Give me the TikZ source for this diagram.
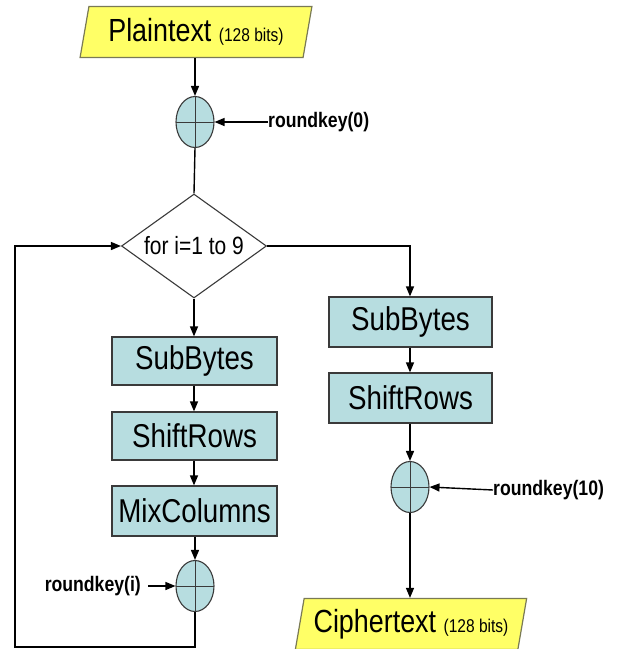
\documentclass[tikz,border=0pt]{standalone}
\usepackage{fontspec}
\setmainfont{Liberation Sans}[FakeStretch=0.84]
\usetikzlibrary{shapes.geometric,arrows.meta}
\definecolor{boxfill}{HTML}{B7DDE0}
\definecolor{boxline}{HTML}{3A3A3A}
\definecolor{ioyellow}{HTML}{FFFF66}
\definecolor{ioline}{HTML}{7A7A55}
\tikzset{
  stepbox/.style={rectangle, draw=boxline, line width=1.2pt, fill=boxfill,
    inner sep=0pt, font=\fontsize{33}{33}\selectfont},
  iobox/.style={trapezium, trapezium left angle=75, trapezium right angle=105,
    trapezium stretches=true, draw=ioline, line width=1.2pt, fill=ioyellow,
    inner sep=0pt, minimum width=232pt, minimum height=51pt},
  xorop/.style={ellipse, draw=boxline, line width=1.1pt, fill=boxfill,
    minimum width=38pt, minimum height=51pt, inner sep=0pt,
    path picture={\draw[boxline, line width=1pt]
      (path picture bounding box.north) -- (path picture bounding box.south)
      (path picture bounding box.west) -- (path picture bounding box.east);}},
  keylabel/.style={font=\bfseries\fontsize{21}{21}\selectfont, inner sep=0pt},
  flow/.style={line width=1.4pt, -{Triangle[length=10pt,width=8pt]}},
  plainline/.style={line width=1.4pt}
}
\newcommand{\bigio}{\fontsize{32}{32}\selectfont}
\newcommand{\smallio}{\fontsize{18.5}{18.5}\selectfont}
\begin{document}
\begin{tikzpicture}[x=1pt,y=-1pt]
\useasboundingbox (0,0) rectangle (618,649);

% input / output
\node[iobox] (plain) at (196,32) {\bigio Plaintext \smallio(128 bits)};
\node[iobox] (cipher) at (411,624) {\bigio Ciphertext \smallio(128 bits)};

% initial key addition
\node[xorop] (xor0) at (195,122) {};
\node[keylabel, anchor=west] (rk0) at (268,122) {roundkey(0)};

% loop decision
\node[diamond, draw=boxline, line width=1.1pt, fill=white, inner sep=0pt,
  shape aspect=1.4, minimum width=145pt, minimum height=104pt,
  font=\fontsize{25}{25}\selectfont] (loop) at (194,246) {for i=1 to 9};

% main rounds
\node[stepbox, minimum width=165pt, minimum height=48pt] (lsub) at (194.5,361) {SubBytes};
\node[stepbox, minimum width=165pt, minimum height=48pt] (lshift) at (194.5,436) {ShiftRows};
\node[stepbox, minimum width=165pt, minimum height=50pt] (lmix) at (194.5,511) {MixColumns};
\node[xorop] (lxor) at (195,586) {};
\node[keylabel, anchor=east] (rki) at (141,586) {roundkey(i)};

% final round
\node[stepbox, minimum width=163pt, minimum height=50pt] (rsub) at (410.5,322) {SubBytes};
\node[stepbox, minimum width=163pt, minimum height=50pt] (rshift) at (410.5,398) {ShiftRows};
\node[xorop] (rxor) at (410,487) {};
\node[keylabel, anchor=west] (rk10) at (493,490) {roundkey(10)};

\coordinate (loopturn) at (410,246);
\coordinate (bot) at (195,647);
\coordinate (botleft) at (15,647);
\coordinate (topleft) at (15,246);

% connectors
\draw[flow] (plain.south -| xor0) -- (xor0.north);
\draw[flow] (rk0.west) -- (xor0.east);
\draw[plainline] (xor0.south) -- (loop.north);
\draw[flow] (loop.south) -- (loop.south |- lsub.north);
\draw[flow] (lsub.south -| loop.south) -- (lshift.north -| loop.south);
\draw[flow] (lshift.south -| loop.south) -- (lmix.north -| loop.south);
\draw[flow] (lmix.south -| lxor) -- (lxor.north);
\draw[flow] ([xshift=7pt]rki.east) -- (lxor.west);
\draw[flow] (lxor.south) -- (bot) -- (botleft) -- (topleft) -- (loop.west);
\draw[flow] (loop.east) -- (loopturn) -- (rsub.north -| loopturn);
\draw[flow] (rsub.south -| loopturn) -- (rshift.north -| loopturn);
\draw[flow] (rshift.south -| rxor) -- (rxor.north);
\draw[flow] (rk10.west) -- (rxor.east);
\draw[flow] (rxor.south) -- (cipher.north -| rxor);
\end{tikzpicture}
\end{document}
